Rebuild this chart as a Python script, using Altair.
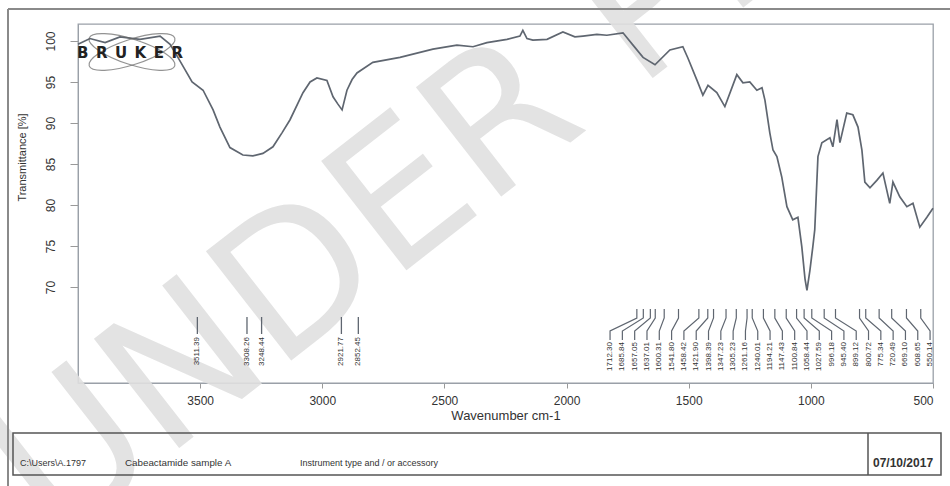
import altair as alt
import pandas as pd
import numpy as np

# ---------------- data ----------------
wavenumber = [4000, 3951, 3889, 3828, 3746, 3664, 3623, 3591, 3562, 3533, 3488, 3447,
              3419, 3378, 3325, 3284, 3243, 3202, 3165, 3132, 3079, 3050, 3022, 2981,
              2956, 2936, 2919, 2899, 2878, 2858, 2793, 2682, 2547, 2449, 2383, 2326,
              2244, 2191, 2179, 2162, 2138, 2080, 2015, 1966, 1933, 1876, 1835, 1769,
              1728, 1687, 1638, 1577, 1524, 1503, 1466, 1442, 1421, 1385, 1352, 1303,
              1278, 1250, 1221, 1200, 1188, 1168, 1155, 1139, 1119, 1098, 1074, 1053,
              1037, 1024, 1016, 1004, 992, 984, 971, 955, 922, 910, 893, 881, 853, 828,
              807, 791, 779, 758, 730, 705, 677, 664, 636, 607, 582, 554, 525, 505, 500]
transmittance = [99.6, 100.3, 99.8, 100.5, 100.2, 100.6, 99.6, 98.0, 96.5, 95.0, 94.0, 91.6,
                 89.5, 87.0, 86.1, 86.0, 86.3, 87.1, 88.8, 90.4, 93.7, 95.0, 95.5, 95.2,
                 93.2, 92.3, 91.6, 94.0, 95.3, 96.1, 97.4, 98.0, 99.0, 99.5, 99.3, 99.8,
                 100.2, 100.6, 101.3, 100.3, 100.1, 100.2, 101.1, 100.5, 100.6, 100.8, 100.7, 101.0,
                 99.5, 98.0, 97.1, 98.9, 99.3, 97.9, 95.2, 93.4, 94.6, 93.7, 92.0, 95.9,
                 94.9, 95.0, 94.0, 94.3, 92.8, 88.8, 86.7, 85.9, 83.4, 79.8, 78.2, 78.5,
                 74.9, 71.0, 69.6, 72.0, 74.9, 77.0, 85.9, 87.6, 88.2, 87.1, 90.4, 87.6, 91.2, 91.0,
                 89.5, 86.7, 82.8, 82.1, 83.0, 83.9, 80.2, 82.8, 81.0, 79.8, 80.2, 77.3, 78.5, 79.4, 79.6]

peaks_left = [3511.39, 3308.26, 3248.44, 2921.77, 2852.45]
peaks_right = [1712.30, 1685.84, 1657.05, 1637.01, 1600.31, 1541.80, 1458.42, 1421.90,
               1398.39, 1347.23, 1305.23, 1261.16, 1240.01, 1194.21, 1147.43, 1100.84,
               1058.44, 1027.59, 996.18, 945.40, 899.12, 800.72, 775.34, 720.49,
               669.10, 608.65, 550.14]

x_ticks = [3500, 3000, 2500, 2000, 1500, 1000, 500]
y_ticks = [70, 75, 80, 85, 90, 95, 100]

footer_texts = ["C:\\Users\\A.1797", "Cabeactamide sample A", "Instrument type and / or accessory"]
footer_date = "07/10/2017"
watermark_text = "UNDER PEER REVIEW"

# ---------------- layout ----------------
W, H = 855, 359
PL, PT, PR, PB = 78, 24, 17, 103
PX_PER_PCT = 8.2


def t_at(px_abs):
    """transmittance value that sits at an absolute pixel row"""
    return 100 - (px_abs - 41) / PX_PER_PCT


x_scale = alt.Scale(domain=[4000, 500], nice=False, zero=False)
y_scale = alt.Scale(domain=[t_at(PT + H), t_at(PT)], nice=False, zero=False)
GREY = "#5f6670"
FONT = "Liberation Sans"

spec = pd.DataFrame({"w": wavenumber, "t": transmittance, "i": range(len(wavenumber))})
one = pd.DataFrame({"a": [0]})

# watermark
watermark = alt.Chart(one).mark_text(
    text=watermark_text, font="DejaVu Sans", fontSize=190, angle=322,
    align="left", baseline="alphabetic", color="#e0e0e0", opacity=0.9
).encode(x=alt.value(55 - PL), y=alt.value(545 - PT))

spectrum = alt.Chart(spec).mark_line(color=GREY, strokeWidth=1.7).encode(
    x=alt.X("w:Q", scale=x_scale,
            axis=alt.Axis(values=x_ticks, format="d", title="Wavenumber cm-1",
                          labelFontSize=12, labelColor="#333", labelFont=FONT,
                          tickColor="#999", tickSize=5, labelPadding=7,
                          domainColor="#9aa0a8", grid=False,
                          titleFontSize=13, titleFont=FONT, titleColor="#333",
                          titleFontWeight="normal", titleY=32, titleBaseline="middle")),
    y=alt.Y("t:Q", scale=y_scale,
            axis=alt.Axis(values=y_ticks, title="Transmittance [%]",
                          labelAngle=270, labelAlign="center", labelBaseline="middle",
                          labelPadding=20, tickSize=8, tickColor="#999",
                          labelFontSize=12, labelColor="#333", labelFont=FONT,
                          domainColor="#9aa0a8", grid=False,
                          titleAngle=270, titleX=-56, titleY=133, titleAlign="center",
                          titleBaseline="middle", titleFontSize=11, titleFont=FONT,
                          titleColor="#333", titleFontWeight="normal")),
    order=alt.Order("i:Q"),
)

# left peak labels (directly below their peaks)
left_df = pd.DataFrame({"w": peaks_left, "lab": [f"{p:.2f}" for p in peaks_left],
                        "y1": t_at(317), "y2": t_at(334), "yt": t_at(337)})
left_rules = alt.Chart(left_df).mark_rule(color=GREY, strokeWidth=1.3).encode(
    x=alt.X("w:Q", scale=x_scale), y=alt.Y("y1:Q", scale=y_scale), y2="y2:Q")
left_text = alt.Chart(left_df).mark_text(
    angle=270, align="right", baseline="middle", fontSize=8, font=FONT, color="#333"
).encode(x=alt.X("w:Q", scale=x_scale), y=alt.Y("yt:Q", scale=y_scale), text="lab:N")

# right peak labels spread evenly, with bent leader lines
n = len(peaks_right)
lab_pos = np.linspace(1822, 512, n)
rows = []
for k, (p, lp) in enumerate(zip(peaks_right, lab_pos)):
    for j, (ww, yy) in enumerate([(p, t_at(309)), (p, t_at(318)), (lp, t_at(331)), (lp, t_at(340))]):
        rows.append({"id": k, "o": j, "w": ww, "t": yy})
lead_df = pd.DataFrame(rows)
right_lines = alt.Chart(lead_df).mark_line(color=GREY, strokeWidth=1.2).encode(
    x=alt.X("w:Q", scale=x_scale), y=alt.Y("t:Q", scale=y_scale),
    detail="id:N", order="o:Q")
right_df = pd.DataFrame({"w": lab_pos, "lab": [f"{p:.2f}" for p in peaks_right], "yt": t_at(342)})
right_text = alt.Chart(right_df).mark_text(
    angle=270, align="right", baseline="middle", fontSize=8, font=FONT, color="#333"
).encode(x=alt.X("w:Q", scale=x_scale), y=alt.Y("yt:Q", scale=y_scale), text="lab:N")

# Bruker logo
logo_text = alt.Chart(one).mark_text(
    text="B\u2002R\u2002U\u2002K\u2002E\u2002R", font="DejaVu Sans", fontWeight="bold",
    fontSize=15, color="#222", align="center", baseline="middle"
).encode(x=alt.value(130 - PL), y=alt.value(53 - PT))
ellipse = "M -1 0 A 1 0.28 0 1 1 1 0 A 1 0.28 0 1 1 -1 0 Z"
orbit1 = alt.Chart(one).mark_point(shape=ellipse, size=8100, filled=False, stroke="#666",
                                   strokeWidth=1.2, angle=18).encode(
    x=alt.value(132 - PL), y=alt.value(52 - PT))
orbit2 = alt.Chart(one).mark_point(shape=ellipse, size=8100, filled=False, stroke="#666",
                                   strokeWidth=1.2, angle=342).encode(
    x=alt.value(132 - PL), y=alt.value(52 - PT))

# page border
page_top = alt.Chart(one).mark_rule(color="#8a8a8a", strokeWidth=2).encode(
    x=alt.value(8 - PL), x2=alt.value(950 - PL), y=alt.value(9 - PT))
page_left = alt.Chart(one).mark_rule(color="#8a8a8a", strokeWidth=2).encode(
    x=alt.value(8 - PL), y=alt.value(9 - PT), y2=alt.value(486 - PT))

# footer box
box = alt.Chart(one).mark_rect(fill="white", fillOpacity=0, stroke="#555", strokeWidth=1.5).encode(
    x=alt.value(13 - PL), x2=alt.value(941 - PL), y=alt.value(433 - PT), y2=alt.value(475 - PT))
divider = alt.Chart(one).mark_rule(color="#555", strokeWidth=1.5).encode(
    x=alt.value(868 - PL), y=alt.value(433 - PT), y2=alt.value(475 - PT))
foot_df = pd.DataFrame({"txt": footer_texts, "xp": [20 - PL, 125 - PL, 300 - PL],
                        "fs": [9, 9.8, 9]})
foot = alt.Chart(foot_df).mark_text(align="left", baseline="middle", font=FONT,
                                    color="#333").encode(
    x=alt.X("xp:Q", scale=None), y=alt.value(463 - PT), text="txt:N",
    size=alt.Size("fs:Q", scale=None, legend=None))
date = alt.Chart(one).mark_text(text=footer_date, align="left", baseline="middle",
                                font=FONT, fontSize=12, fontWeight="bold", color="#333").encode(
    x=alt.value(873 - PL), y=alt.value(463 - PT))

chart = alt.layer(
    watermark, page_top, page_left, box, divider, foot, date,
    spectrum, left_rules, left_text, right_lines, right_text,
    orbit1, orbit2, logo_text
).properties(
    width=W, height=H,
    padding={"left": PL, "top": PT, "right": PR, "bottom": PB},
    autosize=alt.AutoSizeParams(type="none"),
    background="white",
).configure_view(stroke="#9aa0a8", strokeWidth=1.3)

chart.save("out.html", embed_options={"renderer": "svg", "actions": False})
